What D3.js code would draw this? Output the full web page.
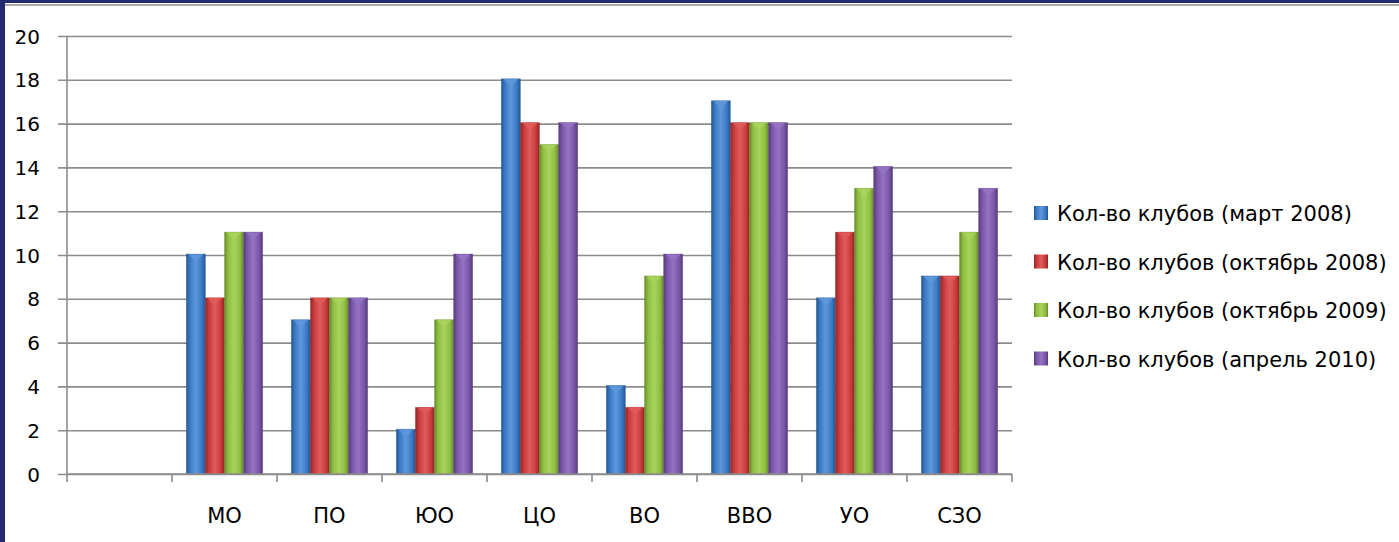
<!DOCTYPE html>
<html><head><meta charset="utf-8">
<script src="https://cdn.jsdelivr.net/npm/d3@7/dist/d3.min.js"></script>
<style>html,body{margin:0;padding:0;background:#fff;overflow:hidden}</style>
</head><body>
<svg id="c" width="1399" height="542"></svg>
<script>
const categories = ["", "МО", "ПО", "ЮО", "ЦО", "ВО", "ВВО", "УО", "СЗО"];
const seriesNames = ["Кол-во клубов (март 2008)", "Кол-во клубов (октябрь 2008)", "Кол-во клубов (октябрь 2009)", "Кол-во клубов (апрель 2010)"];
const march2008 = [null, 10, 7, 2, 18, 4, 17, 8, 9];
const october2008 = [null, 8, 8, 3, 16, 3, 16, 11, 9];
const october2009 = [null, 11, 8, 7, 15, 9, 16, 13, 11];
const april2010 = [null, 11, 8, 10, 16, 10, 16, 14, 13];
const yTicks = [0, 2, 4, 6, 8, 10, 12, 14, 16, 18, 20];
const seriesValues = [march2008, october2008, october2009, april2010];
const colors = [
  {base:"#3a78c4", light:"#5f97dc", dark:"#22558f"},
  {base:"#c93a3a", light:"#e05c5c", dark:"#902424"},
  {base:"#8fbd40", light:"#a8d35d", dark:"#64892a"},
  {base:"#7a55a8", light:"#9473c2", dark:"#553a78"}
];

const svg = d3.select("#c");
const font = "'DejaVu Sans', Verdana, sans-serif";

// frame
svg.append("rect").attr("x",0).attr("y",0).attr("width",1399).attr("height",542).attr("fill","#fff");
svg.append("rect").attr("x",0).attr("y",0).attr("width",1399).attr("height",3).attr("fill","#232a70");
svg.append("rect").attr("x",0).attr("y",4).attr("width",1399).attr("height",2).attr("fill","#a9a9a9");
svg.append("rect").attr("x",0).attr("y",0).attr("width",5).attr("height",542).attr("fill","#232a70");

const x0 = 67, x1 = 1012, yTop = 36, yBot = 474;
const x = d3.scaleBand().domain(categories.map((c,i)=>i)).range([x0,x1]).paddingInner(0).paddingOuter(0);
const y = d3.scaleLinear().domain([0,20]).range([yBot,yTop]);
// gap width 150%: group width = 4w, gap = 1.5w => w = bw/5.5
const bw = x.bandwidth();
const w = bw/5.5;
const xsub = d3.scaleBand().domain(d3.range(4)).range([0.75*w, 0.75*w+4*w]).padding(0);

// defs gradients
const defs = svg.append("defs");
colors.forEach((c,i)=>{
  const g = defs.append("linearGradient").attr("id","g"+i).attr("x1","0").attr("x2","1").attr("y1","0").attr("y2","0");
  g.append("stop").attr("offset","0").attr("stop-color",c.dark);
  g.append("stop").attr("offset","0.18").attr("stop-color",c.base);
  g.append("stop").attr("offset","0.5").attr("stop-color",c.light);
  g.append("stop").attr("offset","0.82").attr("stop-color",c.base);
  g.append("stop").attr("offset","1").attr("stop-color",c.dark);
});

// gridlines
const ga = svg.append("g").attr("transform",`translate(${x0},0)`)
  .call(d3.axisLeft(y).tickValues(yTicks).tickSize(-(x1-x0)).tickSizeOuter(0).tickPadding(0).tickFormat(""));
ga.select(".domain").remove();
ga.selectAll(".tick line").attr("stroke","#8c8c8c").attr("stroke-width",1.6).attr("x1",-9);

// y labels
svg.append("g").selectAll("text").data(yTicks).join("text")
  .attr("x",40).attr("y",d=>y(d)+7.5).attr("text-anchor","end")
  .attr("font-family",font).attr("font-size",20).attr("fill","#000").text(d=>d);

// bars
categories.forEach((c,ci)=>{
  seriesValues.forEach((vals,si)=>{
    const v = vals[ci];
    if (v==null) return;
    const bx = x(ci)+xsub(si), bwid = xsub.bandwidth(), by = y(v);
    const g = svg.append("g");
    g.append("rect").attr("x",bx).attr("y",by-1).attr("width",bwid).attr("height",yBot-by+1)
      .attr("fill",`url(#g${si})`);
    g.append("path").attr("d",`M${bx+2},${by-1} L${bx+bwid-2},${by-1} L${bx+bwid/2},${by+7} Z`)
      .attr("fill",colors[si].light).attr("opacity",0.85);
    g.append("rect").attr("x",bx).attr("y",by-1).attr("width",bwid).attr("height",yBot-by+1)
      .attr("fill","none").attr("stroke",colors[si].dark).attr("stroke-opacity",0.35).attr("stroke-width",0.8);
  });
});

// x axis
svg.append("line").attr("x1",x0).attr("x2",x1).attr("y1",yBot).attr("y2",yBot).attr("stroke","#8c8c8c").attr("stroke-width",1.6);
svg.append("line").attr("x1",x0).attr("x2",x0).attr("y1",yTop).attr("y2",yBot).attr("stroke","#8c8c8c").attr("stroke-width",1.6);
const tickPos = categories.map((c,i)=>x(i)).concat([x1]);
svg.append("g").selectAll("line").data(tickPos).join("line")
  .attr("x1",d=>d).attr("x2",d=>d).attr("y1",yBot).attr("y2",yBot+8).attr("stroke","#8c8c8c").attr("stroke-width",1.6);
svg.append("g").selectAll("text").data(categories).join("text")
  .attr("x",(d,i)=>x(i)+bw/2).attr("y",523).attr("text-anchor","middle")
  .attr("font-family",font).attr("font-size",21).attr("fill","#000").text(d=>d);

// legend
const leg = svg.append("g");
seriesNames.forEach((n,i)=>{
  const ly = 213 + i*48.5;
  leg.append("rect").attr("x",1034).attr("y",ly-7).attr("width",14).attr("height",14).attr("fill",`url(#g${i})`);
  leg.append("text").attr("x",1057).attr("y",ly+8).attr("font-family",font).attr("font-size",21)
    .attr("fill","#000").text(n);
});
</script>
</body></html>
